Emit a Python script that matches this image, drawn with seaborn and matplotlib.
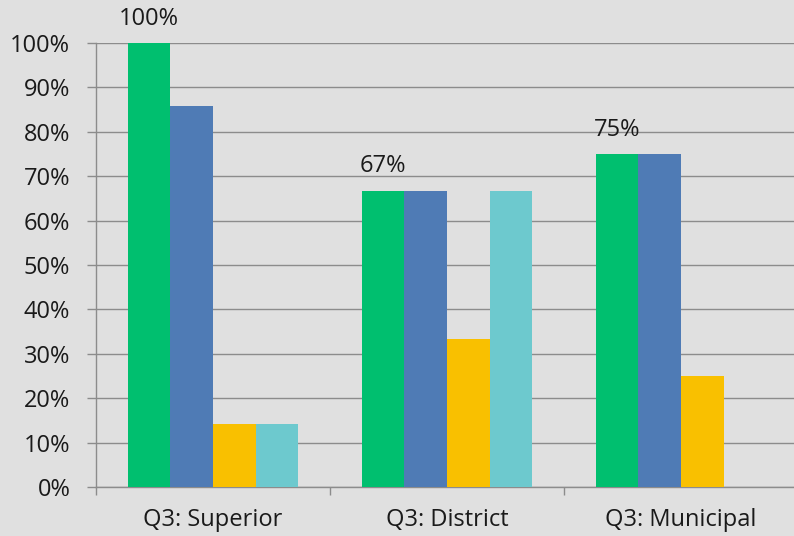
import pandas as pd
import matplotlib
matplotlib.use('Agg')
import matplotlib.pyplot as plt
import seaborn as sns

# Chart data (percent)
categories = ['Q3: Superior', 'Q3: District', 'Q3: Municipal']
series_names = ['Series 1', 'Series 2', 'Series 3', 'Series 4']
series_1 = [100.0, 66.7, 75.0]
series_2 = [85.7, 66.7, 75.0]
series_3 = [14.3, 33.3, 25.0]
series_4 = [14.3, 66.7, 0.0]
y_ticks = [0, 10, 20, 30, 40, 50, 60, 70, 80, 90, 100]

colors = ['#00BF6F', '#4F7BB5', '#F9C000', '#6DC9CE']
bg = '#E0E0E0'
grid_gray = '#8C8C8C'


def build_frame():
    rows = []
    for name, vals in zip(series_names, [series_1, series_2, series_3, series_4]):
        for cat, v in zip(categories, vals):
            rows.append({'category': cat, 'series': name, 'value': v})
    return pd.DataFrame(rows)


def main():
    df = build_frame()
    sns.set_style('white')
    plt.rcParams['font.family'] = ['Open Sans', 'DejaVu Sans']
    fs = 17

    fig = plt.figure(figsize=(7.94, 5.36), dpi=100, facecolor=bg)
    ax = fig.add_axes([96 / 794, 49 / 536, 702 / 794, 444 / 536])
    ax.set_facecolor(bg)

    sns.barplot(data=df, x='category', y='value', hue='series',
                palette=colors, width=0.727, gap=0, saturation=1,
                legend=False, linewidth=0, ax=ax, zorder=3)

    # labels only on the first series
    green = ax.containers[0]
    ax.bar_label(green, labels=[f'{v:.0f}%' for v in series_1],
                 padding=9, fontsize=fs, color='#1a1a1a')

    ax.set_ylim(0, 100)
    ax.set_xlim(-0.5, 2.5)
    ax.set_yticks(y_ticks)
    ax.set_yticklabels([f'{t}%' for t in y_ticks])
    ax.yaxis.grid(True, color=grid_gray, linewidth=1.0, zorder=0)
    ax.set_axisbelow(True)

    ax.set_xticks([0, 1, 2])
    ax.set_xticks([-0.5, 0.5, 1.5, 2.5], minor=True)
    ax.tick_params(axis='x', which='major', length=0, pad=15, labelsize=fs,
                   labelcolor='#1a1a1a')
    ax.tick_params(axis='x', which='minor', length=6, width=1, color=grid_gray,
                   direction='out', bottom=True)
    ax.tick_params(axis='y', length=6.5, width=1, color=grid_gray, pad=12,
                   labelsize=fs, labelcolor='#1a1a1a', left=True)

    ax.set_xlabel('')
    ax.set_ylabel('')
    for side in ['top', 'right']:
        ax.spines[side].set_visible(False)
    for side in ['left', 'bottom']:
        ax.spines[side].set_color(grid_gray)
        ax.spines[side].set_linewidth(1.0)

    fig.savefig('out.png', dpi=100, facecolor=bg)


if __name__ == '__main__':
    main()
